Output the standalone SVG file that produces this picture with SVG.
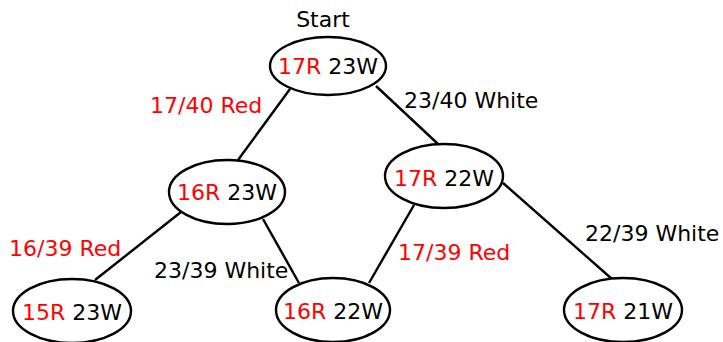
<svg xmlns="http://www.w3.org/2000/svg" width="723" height="342" viewBox="0 0 723 342">
  <style>
    text { font-family: "DejaVu Sans", "Liberation Sans", sans-serif; font-size: 22px; fill: #000; }
    .red { fill: #ff0000; }
    .node ellipse { fill: #fff; stroke: #000; stroke-width: 2.4; }
    .node text { text-anchor: middle; }
    #edges line { stroke: #000; stroke-width: 2.4; }
  </style>
  <rect width="723" height="342" fill="#fff"/>

  <g id="edges">
    <line x1="290" y1="89" x2="238" y2="160"/>
    <line x1="376" y1="86" x2="438" y2="144"/>
    <line x1="181" y1="212" x2="95" y2="280"/>
    <line x1="263" y1="219" x2="299" y2="283"/>
    <line x1="414" y1="205" x2="369" y2="283"/>
    <line x1="503" y1="183" x2="612" y2="279"/>
  </g>

  <g id="edge-labels">
    <text x="150" y="113" class="red">17/40 Red</text>
    <text x="404" y="108">23/40 White</text>
    <text x="9" y="256" class="red">16/39 Red</text>
    <text x="154" y="278">23/39 White</text>
    <text x="398" y="260" class="red">17/39 Red</text>
    <text x="585" y="241">22/39 White</text>
  </g>

  <text x="323" y="27" text-anchor="middle">Start</text>

  <g id="n17r23w" class="node">
    <ellipse cx="328" cy="66" rx="58" ry="29"/>
    <text x="328" y="74"><tspan class="red">17R</tspan> 23W</text>
  </g>
  <g id="n16r23w" class="node">
    <ellipse cx="227" cy="192" rx="58" ry="32"/>
    <text x="227" y="200"><tspan class="red">16R</tspan> 23W</text>
  </g>
  <g id="n17r22w" class="node">
    <ellipse cx="444" cy="176" rx="59" ry="32"/>
    <text x="444" y="186"><tspan class="red">17R</tspan> 22W</text>
  </g>
  <g id="n15r23w" class="node">
    <ellipse cx="72" cy="311" rx="59" ry="32"/>
    <text x="72" y="320"><tspan class="red">15R</tspan> 23W</text>
  </g>
  <g id="n16r22w" class="node">
    <ellipse cx="333" cy="310" rx="57" ry="32"/>
    <text x="333" y="319"><tspan class="red">16R</tspan> 22W</text>
  </g>
  <g id="n17r21w" class="node">
    <ellipse cx="623" cy="310" rx="59" ry="32"/>
    <text x="623" y="319"><tspan class="red">17R</tspan> 21W</text>
  </g>
</svg>
